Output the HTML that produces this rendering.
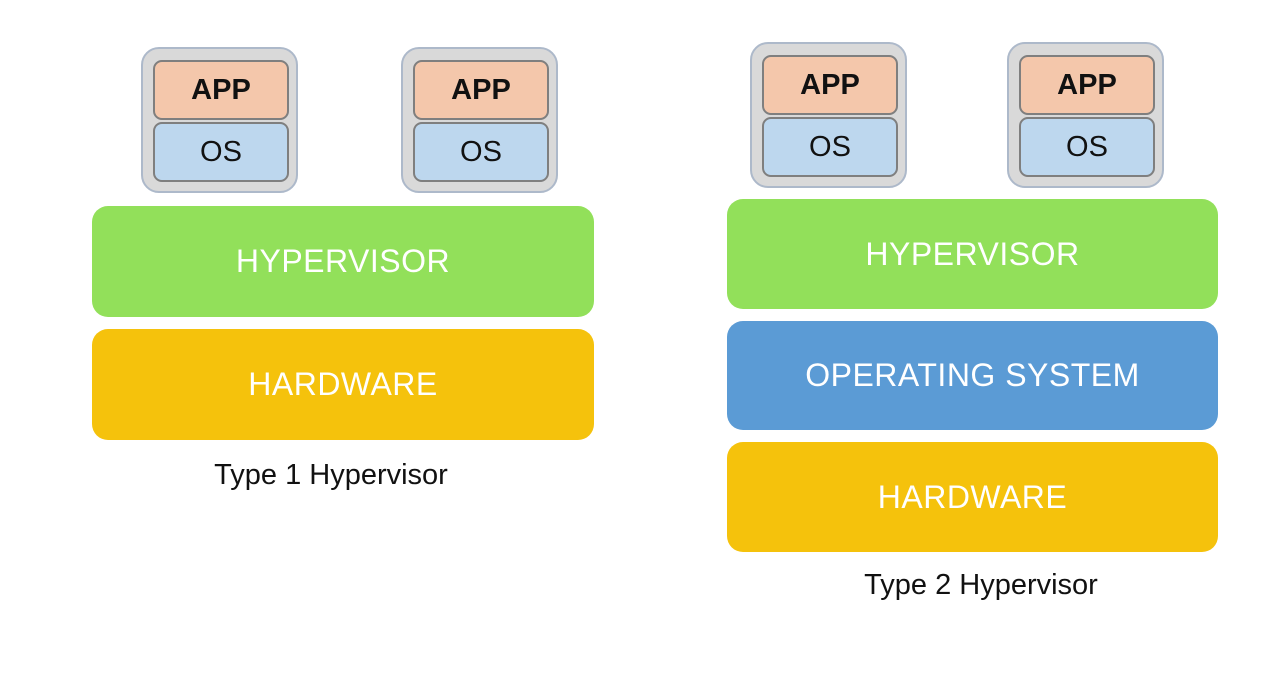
<!DOCTYPE html>
<html><head><style>
body{margin:0;width:1278px;height:676px;background:#fff;position:relative;font-family:"Liberation Sans",sans-serif;overflow:hidden}
.vm{position:absolute;width:157px;height:146px;background:#d9d9d9;border:2px solid #adb9ca;border-radius:18px;box-sizing:border-box}
.in{position:absolute;left:10px;width:136px;height:60px;border:2px solid #7f7f7f;border-radius:9px;box-sizing:border-box;display:flex;align-items:center;justify-content:center;font-size:29px;color:#111}
.app{top:11px;background:#f4c7ab;font-weight:bold}
.os{top:73px;background:#bdd7ee}
.bar{position:absolute;border-radius:16px;display:flex;align-items:center;justify-content:center;color:#fff;font-size:32px;letter-spacing:0.5px}
.g{background:#92e05a}.y{background:#f5c20c}.b{background:#5b9bd5}
.lab{position:absolute;font-size:29px;color:#111;text-align:center;width:400px}
</style></head><body>
<div class="vm" style="left:141px;top:47px"><div class="in app">APP</div><div class="in os">OS</div></div>
<div class="vm" style="left:401px;top:47px"><div class="in app">APP</div><div class="in os">OS</div></div>
<div class="vm" style="left:750px;top:42px"><div class="in app">APP</div><div class="in os">OS</div></div>
<div class="vm" style="left:1007px;top:42px"><div class="in app">APP</div><div class="in os">OS</div></div>
<div class="bar g" style="left:92px;top:206px;width:502px;height:111px">HYPERVISOR</div>
<div class="bar y" style="left:92px;top:329px;width:502px;height:111px">HARDWARE</div>
<div class="lab" style="left:131px;top:459px">Type 1 Hypervisor</div>
<div class="bar g" style="left:727px;top:199px;width:491px;height:110px">HYPERVISOR</div>
<div class="bar b" style="left:727px;top:321px;width:491px;height:109px">OPERATING SYSTEM</div>
<div class="bar y" style="left:727px;top:442px;width:491px;height:110px">HARDWARE</div>
<div class="lab" style="left:781px;top:569px">Type 2 Hypervisor</div>
</body></html>
